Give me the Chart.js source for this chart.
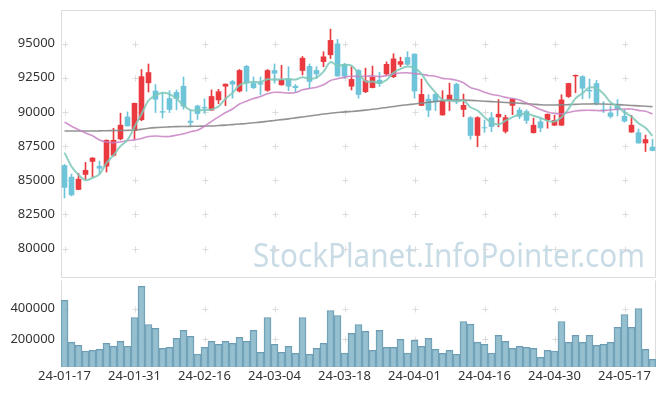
<!DOCTYPE html>
<html>
<head>
<meta charset="utf-8">
<script src="https://cdn.jsdelivr.net/npm/chart.js@4.4.1/dist/chart.umd.min.js"></script>
<style>
  body { margin: 0; background: #fff; }
  #wrap { position: relative; width: 665px; height: 396px; }
  .box { position: absolute; left: 0; width: 665px; }
</style>
</head>
<body>
<div id="wrap">
  <div class="box" style="top:0;height:279px"><canvas id="priceChart"></canvas></div>
  <div class="box" style="top:279px;height:117px"><canvas id="volumeChart"></canvas></div>
</div>
<script>
const dates = [
  "24-01-17","24-01-18","24-01-19","24-01-22","24-01-23","24-01-24","24-01-25","24-01-26","24-01-29","24-01-30",
  "24-01-31","24-02-01","24-02-02","24-02-05","24-02-06","24-02-07","24-02-08","24-02-13","24-02-14","24-02-15",
  "24-02-16","24-02-19","24-02-20","24-02-21","24-02-22","24-02-23","24-02-26","24-02-27","24-02-28","24-02-29",
  "24-03-04","24-03-05","24-03-06","24-03-07","24-03-08","24-03-11","24-03-12","24-03-13","24-03-14","24-03-15",
  "24-03-18","24-03-19","24-03-20","24-03-21","24-03-22","24-03-25","24-03-26","24-03-27","24-03-28","24-03-29",
  "24-04-01","24-04-02","24-04-03","24-04-04","24-04-05","24-04-08","24-04-09","24-04-11","24-04-12","24-04-15",
  "24-04-16","24-04-17","24-04-18","24-04-19","24-04-22","24-04-23","24-04-24","24-04-25","24-04-26","24-04-29",
  "24-04-30","24-05-02","24-05-03","24-05-07","24-05-08","24-05-09","24-05-10","24-05-13","24-05-14","24-05-16",
  "24-05-17","24-05-20","24-05-21","24-05-22","24-05-23"
];

const openPrices = [
  86100, 85250, 84300, 85400, 86350, 86050, 86000, 86800, 88000, 89650,
  88600, 89400, 92100, 91550, 90050, 91000, 91450, 91900, 89350, 90450,
  90350, 90100, 90850, 91850, 92250, 91500, 93350, 92100, 92150, 91550,
  93050, 91950, 92400, 91900, 93000, 93350, 93050, 93650, 94150, 95000,
  93500, 91850, 93050, 91450, 91750, 92350, 92750, 92550, 93450, 94000,
  94250, 90450, 90950, 91300, 89750, 90800, 92050, 90150, 89600, 88250,
  88850, 89600, 89600, 88550, 90450, 90150, 90050, 88450, 89300, 89400,
  89000, 89000, 91100, 92600, 92600, 91600, 92100, 90150, 89950, 90450,
  89700, 88500, 88500, 87700, 87450
];
const highPrices = [
  86150, 85450, 85500, 86300, 86650, 86400, 87950, 88800, 89900, 90000,
  90650, 93100, 93500, 92000, 91400, 91550, 91600, 92550, 90150, 90500,
  90950, 91600, 91650, 92050, 92300, 93100, 93400, 92550, 92550, 93100,
  93500, 93400, 93300, 92000, 94050, 93500, 93300, 94400, 96050, 95300,
  93550, 93300, 93100, 93200, 93350, 92900, 93650, 94250, 94000, 94400,
  94250, 92400, 91250, 91350, 91550, 92100, 92100, 91300, 89650, 89650,
  89400, 89950, 90900, 89750, 90950, 90300, 90150, 89550, 89550, 89850,
  89750, 91250, 92100, 92700, 92650, 92400, 92300, 90750, 90400, 90900,
  90150, 89750, 88750, 88300, 88000
];
const lowPrices = [
  83700, 83850, 84300, 85050, 85250, 85450, 85600, 86750, 87950, 88950,
  88000, 89350, 91450, 89950, 89550, 89950, 90150, 90200, 88950, 89450,
  89900, 90100, 90600, 90450, 91000, 91450, 91500, 91700, 91250, 91500,
  92100, 91950, 91550, 91450, 92700, 91700, 92450, 93300, 93900, 92600,
  92450, 91600, 91000, 91400, 91750, 91850, 92700, 92500, 93300, 93400,
  91000, 90450, 89650, 90100, 89750, 90100, 90600, 89650, 88000, 87450,
  88500, 88550, 88900, 88450, 89800, 89500, 89150, 88450, 88550, 88800,
  89000, 89000, 91050, 91400, 90950, 91000, 90500, 89950, 89550, 89700,
  89250, 88500, 87700, 87100, 87150
];
const closePrices = [
  84450, 83900, 85100, 85750, 86650, 85850, 87950, 87950, 89050, 88950,
  90650, 92600, 92900, 90900, 89950, 90150, 90950, 90400, 89200, 89850,
  90250, 91150, 91500, 92050, 92000, 93050, 92100, 91750, 92000, 93050,
  92800, 92350, 91850, 91750, 93950, 92200, 92750, 94050, 95250, 92600,
  92600, 92400, 91250, 92300, 92550, 92050, 93500, 93900, 93700, 93450,
  91500, 91300, 90100, 90700, 90800, 91250, 90900, 90500, 88250, 89600,
  88800, 88900, 89850, 89600, 90950, 89650, 89350, 89050, 88800, 89850,
  89400, 90900, 92100, 92700, 91700, 91500, 90600, 90100, 89650, 90150,
  89300, 89050, 87700, 88000, 87150
];
const volumes = [
  453600, 182600, 161300, 124500, 129000, 135500, 174200, 156800, 187100, 154800,
  341900, 543900, 296800, 271000, 141900, 148400, 206500, 258100, 219400, 105200,
  148400, 187100, 167800, 187100, 174200, 212900, 187100, 258100, 116100, 341900,
  167800, 116100, 154800, 109700, 341900, 103200, 141900, 174200, 387100, 354900,
  111600, 238700, 296800, 251600, 129000, 258100, 148400, 148400, 200000, 111600,
  193500, 154800, 206500, 135500, 109700, 129000, 103200, 316100, 298700, 182600,
  167800, 111600, 225800, 187100, 141900, 154800, 148400, 141900, 83900, 129000,
  124500, 316100, 180600, 225800, 180600, 225800, 161300, 167800, 180600, 277400,
  361300, 277400, 400000, 135500, 71000
];
const ma5 = [
  87020, 86000, 85390, 85000, 85170, 85450, 86260, 86830, 87490, 87950,
  88910, 89840, 90830, 91200, 91400, 91300, 90970, 90470, 90130, 90110,
  90130, 90170, 90390, 90960, 91390, 91950, 92140, 92190, 92180, 92390,
  92340, 92390, 92410, 92360, 92540, 92420, 92500, 92940, 93640, 93370,
  93450, 93380, 92820, 92230, 92220, 92110, 92330, 92860, 93140, 93320,
  93210, 92770, 92010, 91410, 90880, 90830, 90750, 90830, 90340, 90100,
  89610, 89210, 89080, 89350, 89620, 89790, 89880, 89720, 89560, 89340,
  89290, 89600, 90210, 90990, 91360, 91780, 91720, 91320, 90710, 90400,
  89960, 89650, 89170, 88840, 88240
];
const ma20 = [
  89250, 88950, 88700, 88450, 88250, 87950, 87800, 87750, 87800, 87900,
  87950, 88050, 88200, 88230, 88200, 88200, 88300, 88400, 88550, 88660,
  88950, 89310, 89630, 89950, 90210, 90570, 90780, 90970, 91120, 91320,
  91430, 91420, 91370, 91410, 91610, 91710, 91800, 91980, 92290, 92420,
  92540, 92600, 92590, 92600, 92630, 92580, 92650, 92760, 92840, 92860,
  92800, 92750, 92660, 92610, 92450, 92400, 92310, 92130, 91780, 91630,
  91440, 91270, 91200, 91060, 90980, 90860, 90650, 90410, 90170, 89990,
  89880, 89860, 89960, 90060, 90110, 90120, 90100, 90080, 90150, 90180,
  90210, 90210, 90110, 90040, 89850
];
const ma60 = [
  88600, 88600, 88600, 88600, 88600, 88610, 88620, 88630, 88640, 88650,
  88680, 88720, 88800, 88850, 88880, 88900, 88920, 88930, 88940, 88950,
  88960, 88970, 89000, 89030, 89070, 89110, 89150, 89200, 89250, 89310,
  89370, 89430, 89490, 89560, 89630, 89700, 89770, 89840, 89900, 89950,
  90000, 90030, 90070, 90130, 90190, 90250, 90320, 90390, 90460, 90520,
  90580, 90640, 90700, 90760, 90820, 90860, 90870, 90860, 90840, 90810,
  90780, 90750, 90720, 90690, 90660, 90630, 90600, 90560, 90520, 90500,
  90500, 90510, 90530, 90550, 90570, 90580, 90580, 90570, 90550, 90530,
  90500, 90470, 90440, 90410, 90380
];
const priceTicks = [80000, 82500, 85000, 87500, 90000, 92500, 95000];
const volumeTicks = [200000, 400000];
const labelStep = 10;

const upColor = "#ea3a3f";
const downColor = "#6ec4d9";
const candleColors = closePrices.map((c, i) => c >= openPrices[i] ? upColor : downColor);
const bodies = openPrices.map((o, i) => [o, closePrices[i]]);
const wicks = lowPrices.map((l, i) => [l, highPrices[i]]);

const tickFont = {family: "Noto Sans", size: 13};
const gridColor = "#dcdcdc";

function panelPlugin(drawTop, watermark) {
    return {
        id: "panel",
        beforeDatasetsDraw(chart) {
            const ctx = chart.ctx;
            const a = chart.chartArea;
            const xs = chart.scales.x;
            const ys = chart.scales.y;
            ctx.save();
            if (watermark) {
                ctx.font = "33px 'Noto Sans'";
                ctx.fillStyle = "#c9dce6";
                ctx.textAlign = "left";
                ctx.textBaseline = "alphabetic";
                const w = ctx.measureText(watermark).width;
                ctx.translate(253, 267);
                ctx.scale(392 / w, 1);
                ctx.fillText(watermark, 0, 0);
                ctx.setTransform(1, 0, 0, 1, 0, 0);
            }
            // little crosses where grid lines would meet
            ctx.strokeStyle = gridColor;
            ctx.lineWidth = 1;
            ctx.beginPath();
            ys.ticks.forEach(t => {
                const py = Math.round(ys.getPixelForValue(t.value)) + 0.5;
                for (let i = 0; i < dates.length; i += labelStep) {
                    const px = Math.round(xs.getPixelForValue(i)) + 0.5;
                    ctx.moveTo(px - 3, py); ctx.lineTo(px + 3, py);
                    ctx.moveTo(px, py - 3); ctx.lineTo(px, py + 3);
                }
            });
            ctx.stroke();
            // panel frame
            const l = Math.round(a.left) + 0.5, r = Math.round(a.right) - 0.5;
            const t = Math.round(a.top) + 0.5, b = Math.round(a.bottom) - 0.5;
            ctx.beginPath();
            if (drawTop) { ctx.moveTo(l, t); ctx.lineTo(r, t); }
            ctx.moveTo(r, t); ctx.lineTo(r, b);
            ctx.lineTo(l, b);
            ctx.moveTo(l, b); ctx.lineTo(l, t);
            ctx.stroke();
            ctx.restore();
        }
    };
}

function yAxis(min, max, ticks) {
    return {
        min: min,
        max: max,
        afterBuildTicks: s => { s.ticks = ticks.map(v => ({value: v})); },
        afterFit: s => {
            s.width = 61;
            s.paddingTop = 0;
            s.paddingBottom = 0;
        },
        grid: {display: false, drawTicks: false},
        border: {display: false},
        ticks: {padding: 6, color: "#333", font: tickFont, callback: v => String(v)}
    };
}

new Chart("priceChart", {
    data: {
        labels: dates,
        datasets: [{
            type: "line",
            label: "MA5",
            data: ma5,
            borderColor: "rgba(125,200,185,0.85)",
            borderWidth: 2,
            pointRadius: 0,
            tension: 0.35,
            order: 0
        }, {
            type: "line",
            label: "MA20",
            data: ma20,
            borderColor: "rgba(200,128,194,0.85)",
            borderWidth: 1.6,
            pointRadius: 0,
            tension: 0.35,
            order: 0
        }, {
            type: "line",
            label: "MA60",
            data: ma60,
            borderColor: "rgba(135,135,135,0.9)",
            borderWidth: 1.6,
            pointRadius: 0,
            tension: 0.35,
            order: 0
        }, {
            type: "bar",
            label: "body",
            data: bodies,
            backgroundColor: candleColors,
            categoryPercentage: 1,
            barPercentage: 0.8,
            minBarLength: 1,
            grouped: false,
            order: 1
        }, {
            type: "bar",
            label: "wick",
            data: wicks,
            backgroundColor: candleColors,
            barThickness: 1,
            grouped: false,
            order: 2
        }]
    },
    options: {
        responsive: true,
        maintainAspectRatio: false,
        animation: false,
        layout: {padding: {top: 10, right: 9, bottom: 1, left: 0}},
        plugins: {legend: {display: false}, tooltip: {enabled: false}},
        scales: {
            x: {type: "category", offset: true, display: false, grid: {display: false}},
            y: yAxis(77850, 97450, priceTicks)
        }
    },
    plugins: [panelPlugin(true, "StockPlanet.InfoPointer.com")]
});

new Chart("volumeChart", {
    type: "bar",
    data: {
        labels: dates,
        datasets: [{
            label: "Volume",
            data: volumes,
            backgroundColor: "rgba(136,182,202,0.88)",
            borderColor: "#6b9cb3",
            borderWidth: {top: 1, left: 1, right: 1, bottom: 0},
            categoryPercentage: 1,
            barPercentage: 1
        }]
    },
    options: {
        responsive: true,
        maintainAspectRatio: false,
        animation: false,
        layout: {padding: {top: 1, right: 9, bottom: 0, left: 0}},
        plugins: {legend: {display: false}, tooltip: {enabled: false}},
        scales: {
            x: {
                type: "category",
                offset: true,
                afterFit: s => {
                    s.height = 29;
                    s.paddingLeft = 0;
                    s.paddingRight = 0;
                },
                grid: {display: false, drawTicks: false},
                border: {display: false},
                ticks: {
                    autoSkip: false,
                    maxRotation: 0,
                    padding: 1,
                    color: "#333",
                    font: tickFont,
                    callback: (v, i) => i % labelStep === 0 ? dates[i] : null
                }
            },
            y: yAxis(21000, 585000, volumeTicks)
        }
    },
    plugins: [panelPlugin(false, null)]
});
</script>
</body>
</html>
